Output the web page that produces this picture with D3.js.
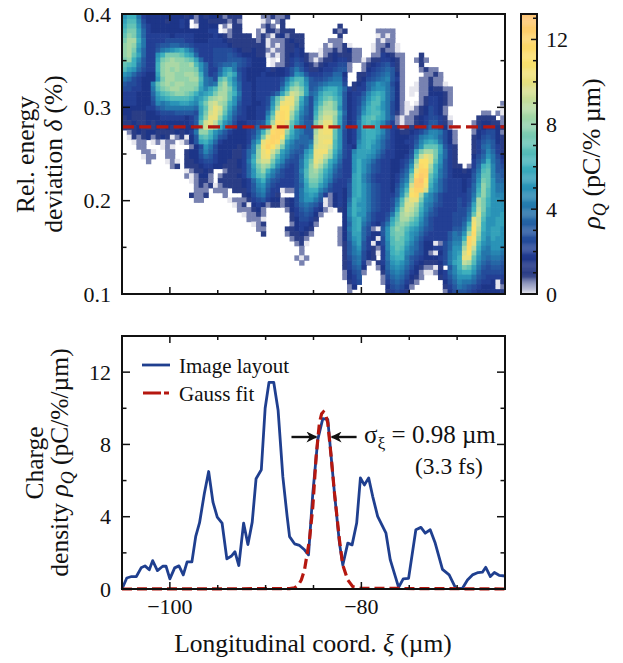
<!DOCTYPE html>
<html>
<head>
<meta charset="utf-8">
<title>Charge density</title>
<script src="https://d3js.org/d3.v7.min.js"></script>
<style>
 html, body { margin: 0; padding: 0; background: #fff; }
 svg { display: block; }
 text { font-family: "Liberation Serif", serif; fill: #111; }
</style>
</head>
<body>
<svg width="623" height="663"></svg>
<script>
// image rows, top row is delta = 0.4. '.' = no charge, others base 36 in steps of 0.5 pC
const heatRows = [
"acc8433333 3332313233 21222....1 12112..... .......... .......... .......... ..........",
"bdd9533332 3343.13322 22121....0 1.12...... .......... .......... .......... ..........",
"ceea643333 3343.03333 .1022....1 21.2...... .....2.... .......... .......... ..........",
"dffb743333 3333333344 .0122...10 221222.... ....212... ...1111... .......... ..........",
"egfb744444 3444433334 3212222.12 10231222.. .....2.... ...0101... .......... ..........",
"fhhc844445 5554433344 4322222212 01112322.. ...111.... ...1011... .......... ..........",
"ghgb844566 7766544444 4432222222 01012232.. ..101120.. ..011210.. .......... ..........",
"ghfa744689 abca854445 5554322322 10112243.. .011212311 ..012110.. .......... ..........",
"gheb744acf ffecb74445 5565433322 0101234321 1012322211 ..1143211. ..2....... ..........",
"fgc9644bfg hggfeb7445 5566654333 .0.1245421 0122344211 012244321. .121...... ..........",
"edc8644cgh hhgghda745 6778654333 .011246532 12344551.. 123456421. ..2....... ..........",
"dba7544cgh ghgggfa744 7ab8543333 4233468642 23445661.. 134567621. ..1211.... ..........",
"a975433bgh hgghhgc745 8bdb643334 333346a964 4455773..2 245678631. ...1121... ..........",
"8754333afh hggghhd875 dfc9643344 44458bdd96 5567884..2 356789641. ..11211... ..........",
"6554339egh ghhgggc878 fhda744344 4446adfda6 6789995.23 478a98531. .0112110.. ..........",
"5544338dfg hhgggfb9bd ghfb744344 4448cghfb6 79bcca7424 479aa8631. 001132211. ..........",
"4443337bde fggfecabcf hhec844344 457bfjigb7 8bddca6344 69bcb8631. 0.1133321. ..........",
"4443336abc ddddcabdgh ihea744344 59ehkkhc85 9cefdb6345 7acdb8631. ..1244321. ..........",
"4443335989 aabba9cfij hgca644334 5afklkgb85 adghfb6345 8bdda85310 .01244321. .........1",
"3333344678 888887beik jfb8543344 6bhmmjfa75 bfhhfa6346 9cdca85310 01235431.. .........0",
"3322233455 566665bfjk iea7543344 8dknmhd975 cgiihc7346 acddb85210 11235431.. .....11.10",
"2322233344 444346cgkk gc96443344 aflnmgc865 dhjjgb6347 cdecb86101 123455420. ....2222.1",
"2232232333 333346ejki ea85334456 bhnnkeb866 fikkgb6348 cdcb964101 123466421. ...1233221",
"2223222323 223336fjig c974334578 ekonida866 gjllfa6348 cdcb964212 2345775310 ...1234432",
".123233222 232348ggda 864333458c hnoogc9866 hkllea5348 bccb964322 3457998531 ...1345531",
".021231232 012036dec9 653333469f koomeb9776 ikkkea5348 bcca864333 4589a97531 ...2356532",
"..011.0101 1.0136bca7 43333348bk nonib97778 ikllda5349 bcb9754334 469bcb8531 ...2467632",
"...11...01 0...135a85 33332359fl omjfa8767a jkkjda543a bca9754333 47aeeeb642 ...2478642",
"....110..1 1..2336975 33322479gk mjgb9766ac kllhc9549b bba8644333 5bfhhfb742 ...2469742",
"....011..1 1..2335764 33322 47bgk lhda8657bd kkigb854ab ba97544334 6dikjfa742 ...357a853",
".....1...0 10.2234554 332234 8chj jfb96558cf kjgca744ac a975443345 8gmmjea642 ...468c864",
".......... 12.2223443 322234 7bfh gd975458cg jheb8644ac a865443346 ainmhc9642 2.147cd965",
".......... ...012232. .12224 7aeg c9754459dg hfca7544ac a865443357 ckoogc8643 32358de966",
".......... ...101331. 122234 7ade a865445 8dg geb96544bc 9754443468 fnpoeb8643 33369ee976",
".......... ....01221. 22222347ac 86544458cf fda85445bc 9754443479 gpqmda7544 4346afea77",
".......... .....12120 122223469a 7544445 7be eb964446bc a86544358b jpplc97544 4347bgea88",
".......... .....111.1 11.2224689 64401158bc c9754436bc a86544369d loojb97544 4357cgda88",
".......... ....2112.. .1...23578 542...58ab a7413436bc a8654446af mnhb975444 4458dgda99",
".......... .....11... ..01112456 43312358aa 86013437cb a8654458di kkfa975444 5459hfcaa9",
".......... .......... ...0120343 1221235787 64013438ca a8654459ej jhd9865444 546bhfcaaa",
".......... .......... ....111231 ....134676 4310.239cb a865446bgj igc9754444 557cifbaaa",
".......... .......... .....01121 .....24565 31....39ca a754458dhi hfb8654445 558ejebaab",
".......... .......... ......1110 .....23554 2.....38bc 975446behh fda7544445 569kidaabb",
".......... .......... .......012 .....13443 1.....37bc 864358cfgf dc97544445 57clicaabb",
".......... .......... ........11 ....223432 .....138bc 75106aegfd ba86544446 68emhcabba",
".......... .......... .........2 ....122321 .....137bb 75336aeffc a975444468 7ahngbabba",
".......... .......... .......... .....1221. .....137ab 74305adfec a864444468 8colfb9baa",
".......... .......... .......... ......120. .....1269b 640359deeb 9753301579 9fokda9aaa",
".......... .......... .......... .......1.. ......268a 642149ceda 875334457a ahnic98aa9",
".......... .......... .......... .......1.. ......2689 532048cdc9 865310358a bjmgb88998",
".......... .......... .......... ......101. ......2578 532.48bcc8 654333458a ckkea87887",
".......... .......... .......... .......1.. ......2478 41.247aba8 643222358b cihd976776",
".......... .......... .......... .......... ......2467 3..1379a97 5321102.69 cfeb865665",
".......... .......... .......... .......... ......1356 1...268986 4310013479 bcca755555",
".......... .......... .......... .......... ......1346 ....157875 321...2468 aaa8654444",
".......... .......... .......... .......... .......245 ....146764 21.....357 9887544302",
".......... .......... .......... .......... .......13. .....35653 1......246 8765433301",
".......... .......... .......... .......... .......1.. .....24542 .......135 6654333332"
].map(r => r.replace(/ /g, ""));

const lineoutX = [-105,-104.5,-104,-103.5,-103,-102.6,-102.15,-101.8,-101.3,-100.75,-100.4,-100,-99.5,-99.05,-98.6,-98.2,-97.7,-97.3,-96.9,-96.4,-95.95,-95.5,-95.05,-94.55,-94.05,-93.6,-93.2,-92.8,-92.3,-91.85,-91.4,-91,-90.45,-90.05,-89.65,-89.15,-88.7,-88.2,-87.75,-87.5,-86.98,-86.46,-85.94,-85.52,-85.07,-84.55,-84.03,-83.51,-82.81,-82.29,-81.94,-81.42,-80.97,-80.49,-80.1,-79.69,-79.24,-78.82,-78.3,-77.43,-76.98,-76.11,-75.63,-75.07,-74.31,-73.78,-73.33,-72.81,-72.29,-71.53,-70.83,-70.14,-69.44,-68.92,-68.4,-67.81,-67.36,-67.01,-66.53,-66.11,-65.62,-65];
const lineoutY = [0,0.61,0.69,0.69,1.17,1.28,1.06,1.57,1.02,1.26,1.26,0.56,1.17,1.28,0.78,1.5,1.5,2.91,3.67,5.28,6.5,4.81,3.98,3.65,1.67,1.81,2.06,1.3,3.65,2.46,3.7,6.1,6.6,10,11.43,11.43,9.91,6.2,4,2.9,2.5,2.41,2.17,1.89,5.31,8.28,9.43,9.39,5.31,2.54,1.33,2.54,2.44,3.65,6.15,5.76,6.15,5.13,4.02,3.09,1.61,0.09,0.56,0.59,3.28,3.41,3.09,3.28,2.54,1.09,0.78,0.04,0.04,0.5,0.78,0.91,0.93,1.2,0.69,0.91,0.76,0.72];

const gaussX = [-105,-87.5,-87,-86.6,-86.27,-85.94,-85.42,-85.07,-84.72,-84.38,-84.15,-83.96,-83.75,-83.51,-83.16,-82.81,-82.29,-81.94,-81.42,-80.9,-80.05,-65];
const gaussY = [0,0.02,0.06,0.2,0.5,1.06,2.72,4.57,7.35,9.2,9.7,9.81,9.7,9.2,7.35,5.31,2.72,1.33,0.5,0.13,0.04,0];

const colorStops = [0,0.4,0.8,1.2,2,3,4,5,6,7,8,9,10,11,12,13.2];
const colorValues = ["#e6e6ee","#8d95bd","#3a4a8c","#1a2f80","#233f94","#2558a0","#2476ab","#2a93b7","#3eb0bd","#63c3b6","#93d3ab","#c0dd9e","#e8e07f","#fbe06a","#fdd469","#fdc070"];

const deltaTicks = [0.1,0.2,0.3,0.4];
const deltaMinor = [0.15,0.25,0.35];
const xiTicks = [-100,-80];
const xiMinor = [-95,-90,-85,-75,-70];
const rhoTicks = [0,4,8,12];
const rhoMinor = [2,6,10,14];
const barTicks = [0,4,8,12];
const barMinor = [1,2,3,5,6,7,9,10,11,13];
const cutDelta = 0.279;

const svg = d3.select("svg");
const left = 122, right = 505;
const top1 = 14, bot1 = 294, top2 = 336, bot2 = 589;
const barL = 521, barR = 537;

const xScale = d3.scaleLinear().domain([-105,-65]).range([left,right]);
const yTop = d3.scaleLinear().domain([0.1,0.4]).range([bot1,top1]);
const yBot = d3.scaleLinear().domain([0,14]).range([bot2,top2]);
const yBar = d3.scaleLinear().domain([0,13.2]).range([bot1,top1]);
const color = d3.scaleLinear().domain(colorStops).range(colorValues).clamp(true);

// heatmap cells
const cols = heatRows[0].length, rows = heatRows.length;
const cellX = d3.scaleBand().domain(d3.range(cols)).range([left,right]);
const cellY = d3.scaleBand().domain(d3.range(rows)).range([top1,bot1]);
const cells = [];
heatRows.forEach((r,j) => {
    r.split("").forEach((c,i) => {
        if (c !== ".") cells.push({i:i, j:j, v:parseInt(c,36)*0.5});
    });
});

svg.append("defs").append("clipPath").attr("id","clipTop")
   .append("rect").attr("x",left).attr("y",top1).attr("width",right-left).attr("height",bot1-top1);

svg.append("g").attr("clip-path","url(#clipTop)")
   .append("g").style("filter","blur(0.5px)")
   .selectAll("rect").data(cells).join("rect")
   .attr("x",d => cellX(d.i))
   .attr("y",d => cellY(d.j))
   .attr("width",cellX.bandwidth()+0.6)
   .attr("height",cellY.bandwidth()+0.6)
   .attr("fill",d => color(d.v));

// cut line through the image
svg.append("line")
   .attr("x1",left).attr("x2",right)
   .attr("y1",yTop(cutDelta)).attr("y2",yTop(cutDelta))
   .attr("stroke","#b5170f").attr("stroke-width",3.2)
   .attr("stroke-dasharray","12,5.2");

// colorbar
const barSteps = d3.range(0,13.2,0.05);
svg.append("g").selectAll("rect").data(barSteps).join("rect")
   .attr("x",barL).attr("width",barR-barL)
   .attr("y",d => yBar(d+0.05))
   .attr("height",yBar(0)-yBar(0.06))
   .attr("fill",d => color(d));

// inward ticks on all sides of one frame
function drawFrame(xs, ys, majorX, minorX, majorY, minorY) {
    const g = svg.append("g");
    const x0 = xs.range()[0], x1 = xs.range()[1];
    const y0 = ys.range()[0], y1 = ys.range()[1];
    const tick = (x1,y1,x2,y2) => g.append("line")
        .attr("x1",x1).attr("y1",y1).attr("x2",x2).attr("y2",y2)
        .attr("stroke","#111").attr("stroke-width",1.5);
    majorX.forEach(v => { tick(xs(v),y0,xs(v),y0-7); tick(xs(v),y1,xs(v),y1+7); });
    minorX.forEach(v => { tick(xs(v),y0,xs(v),y0-4); tick(xs(v),y1,xs(v),y1+4); });
    majorY.forEach(v => { tick(x0,ys(v),x0+8,ys(v)); tick(x1,ys(v),x1-8,ys(v)); });
    minorY.forEach(v => { if (ys(v) > y1) { tick(x0,ys(v),x0+4.5,ys(v)); tick(x1,ys(v),x1-4.5,ys(v)); } });
    g.append("rect").attr("x",x0).attr("y",y1).attr("width",x1-x0).attr("height",y0-y1)
     .attr("fill","none").attr("stroke","#111").attr("stroke-width",2);
}

// lineout panel lines
const line = d3.line().x(d => xScale(d[0])).y(d => yBot(d[1])).curve(d3.curveLinear);

svg.append("path").datum(d3.zip(lineoutX,lineoutY))
   .attr("d",line).attr("fill","none")
   .attr("stroke","#1f3f8f").attr("stroke-width",2.8).attr("stroke-linejoin","round");

svg.append("path").datum(d3.zip(gaussX,gaussY))
   .attr("d",line).attr("fill","none")
   .attr("stroke","#b5170f").attr("stroke-width",3.2).attr("stroke-dasharray","10,5");

drawFrame(xScale,yTop,xiTicks,xiMinor,deltaTicks,deltaMinor);
drawFrame(xScale,yBot,xiTicks,xiMinor,rhoTicks,rhoMinor);

// colorbar frame and ticks
svg.append("g").selectAll("line").data(barTicks.concat(barMinor)).join("line")
   .attr("x1",barR).attr("x2",d => barR-(barTicks.includes(d) ? 6 : 4))
   .attr("y1",d => yBar(d)).attr("y2",d => yBar(d))
   .attr("stroke","#111").attr("stroke-width",1.5);
svg.append("rect").attr("x",barL).attr("y",top1).attr("width",barR-barL).attr("height",bot1-top1)
   .attr("fill","none").attr("stroke","#111").attr("stroke-width",2);

// tick labels
const fs = 22;
const addText = (x,y,t,anchor) => svg.append("text").attr("x",x).attr("y",y)
    .attr("text-anchor",anchor||"start").attr("font-size",fs).text(t);

deltaTicks.forEach(v => addText(111,yTop(v)+7.5,v.toFixed(1),"end"));
rhoTicks.forEach(v => addText(111,yBot(v)+7.5,v,"end"));
barTicks.forEach(v => addText(546,yBar(v)+7.5,v));
xiTicks.forEach(v => addText(xScale(v),614,"\u2212"+Math.abs(v),"middle"));

// rotated axis labels, parts = [text, italic, subscript, back to baseline]
function rotated(cx, cy, size, parts) {
    const t = svg.append("text").attr("text-anchor","middle").attr("font-size",size)
        .attr("transform",`translate(${cx},${cy}) rotate(-90)`);
    parts.forEach(p => {
        const s = t.append("tspan").text(p[0]);
        if (p[1]) s.attr("font-style","italic");
        if (p[2]) s.attr("font-size",size*0.7).attr("dy",6);
        if (p[3]) s.attr("dy",-6);
    });
}
rotated(34,154.5,25.5,[["Rel. energy"]]);
rotated(62,154,25.5,[["deviation "],["\u03b4",1],[" (%)"]]);
rotated(43,463,25.5,[["Charge"]]);
rotated(68,462.5,25.5,[["density "],["\u03c1",1],["Q",1,1],[" (pC/%/\u00b5m)",0,0,1]]);
rotated(600,153.5,26,[["\u03c1",1],["Q",1,1],[" (pC/% \u00b5m)",0,0,1]]);

// x label
const xl = svg.append("text").attr("x",313).attr("y",652).attr("text-anchor","middle").attr("font-size",25.5);
xl.append("tspan").text("Longitudinal coord. ");
xl.append("tspan").attr("font-style","italic").text("\u03be");
xl.append("tspan").text(" (\u00b5m)");

// legend
svg.append("line").attr("x1",142).attr("x2",170).attr("y1",365).attr("y2",365)
   .attr("stroke","#1f3f8f").attr("stroke-width",2.8);
svg.append("line").attr("x1",143).attr("x2",169).attr("y1",393).attr("y2",393)
   .attr("stroke","#b5170f").attr("stroke-width",3.2).attr("stroke-dasharray","18,3,5");
svg.append("text").attr("x",179).attr("y",373).attr("font-size",21).text("Image layout");
svg.append("text").attr("x",179).attr("y",401).attr("font-size",21).text("Gauss fit");

// width annotation
svg.append("defs").append("marker").attr("id","arrowhead")
   .attr("viewBox","0 0 10 10").attr("refX",9).attr("refY",5)
   .attr("markerUnits","userSpaceOnUse").attr("markerWidth",13).attr("markerHeight",11).attr("orient","auto")
   .append("path").attr("d","M0,0L10,5L0,10L3,5Z").attr("fill","#111");
[[-87.3,-84.7],[-80.5,-83.1]].forEach(a => {
    svg.append("line").attr("x1",xScale(a[0])).attr("x2",xScale(a[1]))
       .attr("y1",437).attr("y2",437)
       .attr("stroke","#111").attr("stroke-width",2.4).attr("marker-end","url(#arrowhead)");
});
const sig = svg.append("text").attr("x",364).attr("y",443).attr("font-size",25);
sig.append("tspan").text("\u03c3");
sig.append("tspan").attr("font-size",17.5).attr("dy",6).text("\u03be");
sig.append("tspan").attr("dy",-6).text(" = 0.98 \u00b5m");
svg.append("text").attr("x",415).attr("y",474).attr("font-size",23.5).text("(3.3 fs)");
</script>
</body>
</html>
